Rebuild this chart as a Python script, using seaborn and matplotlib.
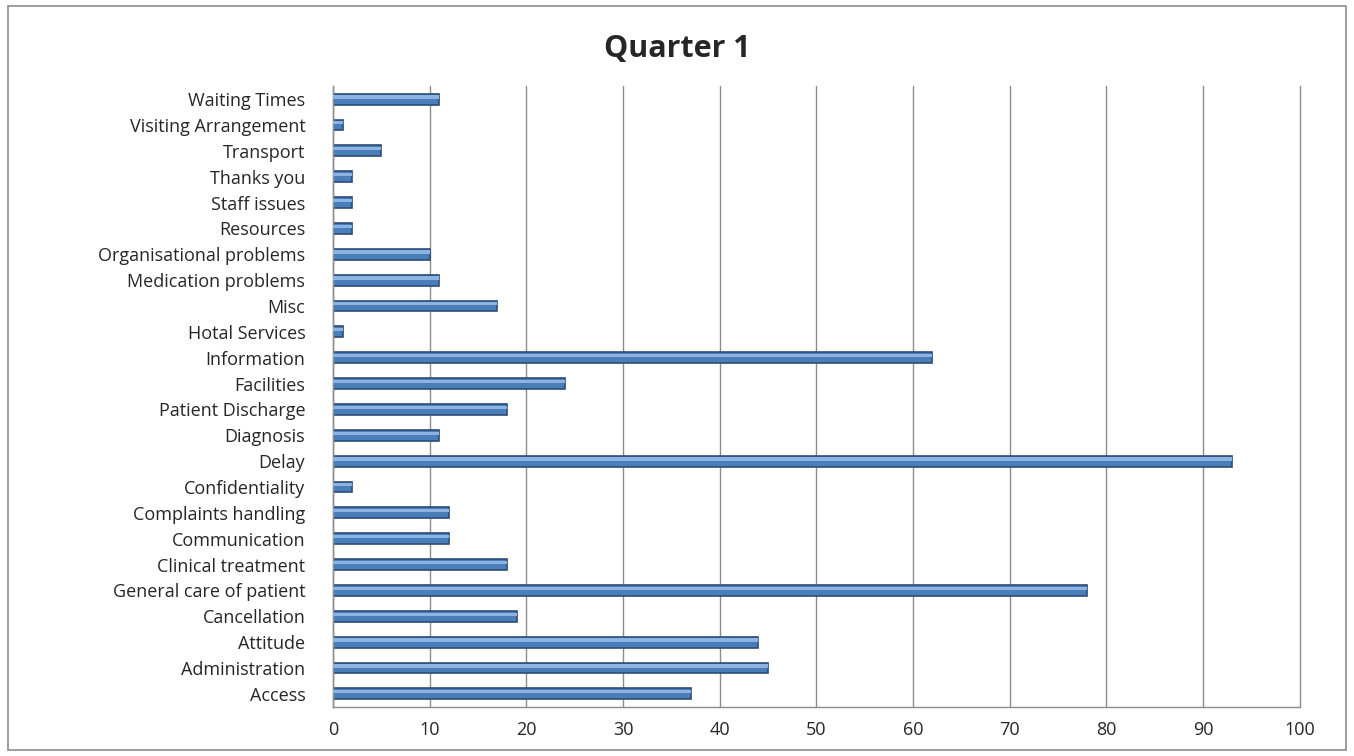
import matplotlib
matplotlib.use("Agg")
import matplotlib.pyplot as plt
import seaborn as sns
import pandas as pd
import numpy as np
from matplotlib.patches import Rectangle

categories = ["Waiting Times", "Visiting Arrangement", "Transport", "Thanks you",
              "Staff issues", "Resources", "Organisational problems",
              "Medication problems", "Misc", "Hotal Services", "Information",
              "Facilities", "Patient Discharge", "Diagnosis", "Delay",
              "Confidentiality", "Complaints handling", "Communication",
              "Clinical treatment", "General care of patient", "Cancellation",
              "Attitude", "Administration", "Access"]
counts = [11, 1, 5, 2, 2, 2, 10, 11, 17, 1, 62, 24, 18, 11, 93, 2, 12, 12,
          18, 78, 19, 44, 45, 37]
xticks = list(range(0, 101, 10))

df = pd.DataFrame({"category": categories, "count": counts})

sns.set_style("white")
plt.rcParams['font.family'] = ['Open Sans', 'DejaVu Sans']

fig = plt.figure(figsize=(13.54, 7.56), dpi=100)
ax = fig.add_axes([0.246, 0.065, 0.714, 0.821])

sns.barplot(data=df, x="count", y="category", orient="h", color="#4a7ebb",
            width=0.42, edgecolor="#2c4d75", linewidth=1.2, saturation=1, ax=ax)

# lighter highlight stripe on each bar
for p in ax.patches:
    y0, h = p.get_y(), p.get_height()
    ax.add_patch(Rectangle((p.get_x(), y0 + h * 0.15), p.get_width(), h * 0.3,
                           facecolor="#8db3e2", edgecolor="none", zorder=3))

ax.set_xlim(0, 100)
ax.set_xticks(xticks)
ax.set_ylim(len(categories) - 0.5, -0.5)
ax.xaxis.grid(True, color="#8c8c8c", linewidth=1)
for gl in ax.get_xgridlines():
    gl.set_clip_on(False)
ax.set_axisbelow(True)
ax.set_xlabel("")
ax.set_ylabel("")

for s in ["top", "right"]:
    ax.spines[s].set_visible(False)
for s in ["left", "bottom"]:
    ax.spines[s].set_color("#8c8c8c")
    ax.spines[s].set_linewidth(1)

ax.tick_params(axis="x", labelsize=13, colors="#262626", length=6, color="#8c8c8c",
               direction="out", pad=4)
ax.tick_params(axis="y", labelsize=13, colors="#262626", length=0, pad=20)
ax.set_yticks(np.arange(-0.5, len(categories), 1), minor=True)
ax.tick_params(axis="y", which="minor", length=7, color="#8c8c8c", direction="out")

fig.suptitle("Quarter 1", fontsize=22, fontweight="bold", y=0.955, x=0.5)

fig.patches.append(Rectangle((0.006, 0.008), 0.988, 0.984, transform=fig.transFigure,
                             fill=False, edgecolor="#8c8c8c", linewidth=1.2))

fig.savefig("out.png", dpi=100)
